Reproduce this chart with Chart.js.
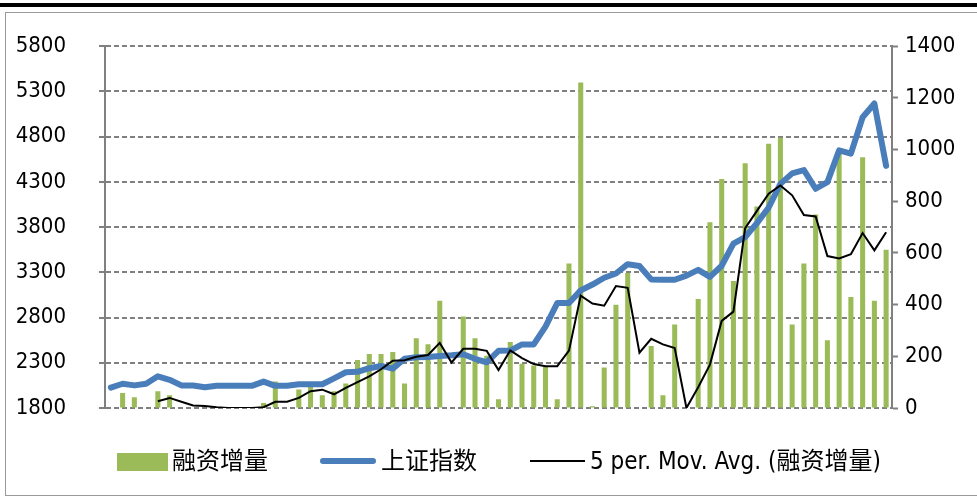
<!DOCTYPE html>
<html>
<head>
<meta charset="utf-8">
<script src="https://cdn.jsdelivr.net/npm/chart.js@4/dist/chart.umd.min.js"></script>
<style>
  html, body { margin: 0; padding: 0; background: #fff; }
  #wrap { position: relative; width: 977px; height: 501px; overflow: hidden; }
  #topbar { position: absolute; left: 0; top: 3px; width: 977px; height: 4px; background: #000; }
  #frame { position: absolute; left: 5px; top: 12px; width: 990px; height: 484px; border: 1px solid #9a9a9a; box-sizing: border-box; }
  canvas { position: absolute; left: 0; top: 0; }
  .lg { position: absolute; font-family: "Liberation Sans Narrow", "DejaVu Sans Condensed", "Noto Sans CJK SC", sans-serif; font-size: 24px; color: #000; line-height: 1; white-space: nowrap; }
  .sw { position: absolute; }
</style>
</head>
<body>
<div id="wrap">
  <div id="topbar"></div>
  <div id="frame"></div>
  <canvas id="c" width="977" height="501"></canvas>
  <div class="sw" style="left:117px; top:453px; width:51px; height:18px; background:#9BBB59;"></div>
  <div class="lg" style="left:172px; top:449px;">融资增量</div>
  <div class="sw" style="left:320px; top:458px; width:56px; height:6px; background:#4A7EBB; border-radius:3px;"></div>
  <div class="lg" style="left:381px; top:449px;">上证指数</div>
  <div class="sw" style="left:530px; top:460px; width:55px; height:2px; background:#000;"></div>
  <div class="lg" style="left:590px; top:449px;">5 per. Mov. Avg. (融资增量)</div>
</div>
<script>
// Categories (periods, unlabeled in the original)
const categories = [
  "1","2","3","4","5","6","7","8","9","10",
  "11","12","13","14","15","16","17","18","19","20",
  "21","22","23","24","25","26","27","28","29","30",
  "31","32","33","34","35","36","37","38","39","40",
  "41","42","43","44","45","46","47","48","49","50",
  "51","52","53","54","55","56","57","58","59","60",
  "61","62","63","64","65","66","67"
];

// 融资增量 (right axis)
const financingIncrease = [
  -16, 58, 42, -19, 65, 49, -17, -28, -29, -10,
  -5, -5, -3, 19, 103, -5, 72, 81, 49, 65,
  95, 186, 209, 209, 217, 95, 270, 247, 415, -147,
  354, 270, 202, 34, 255, 171, 164, 160, 34, 559,
  1260, 7, 157, 400, 522, -16, 240, 49, 323, -609,
  422, 719, 886, 491, 947, 780, 1023, 1046, 323, 559,
  749, 262, 985, 430, 970, 415, 612
];

// 上证指数 (left axis)
const shanghaiIndex = [
  2025, 2068, 2050, 2068, 2151, 2112, 2050, 2048, 2030, 2047,
  2047, 2047, 2045, 2092, 2045, 2045, 2062, 2062, 2062, 2127,
  2195, 2200, 2240, 2265, 2235, 2344, 2360, 2365, 2376, 2382,
  2395, 2344, 2305, 2432, 2435, 2503, 2503, 2700, 2960, 2960,
  3100, 3165, 3240, 3287, 3390, 3370, 3222, 3218, 3218, 3264,
  3327, 3250, 3373, 3617, 3690, 3844, 4017, 4278, 4394, 4430,
  4224, 4297, 4648, 4612, 5014, 5166, 4477
];

// 5 per. Mov. Avg. (融资增量) (right axis)
const movingAvg5 = [
  null, null, null, null, 26, 39, 24, 10, 8, 3,
  0, 0, 0, 3, 24, 24, 39, 65, 71, 53,
  78, 100, 122, 150, 183, 185, 198, 205, 252, 176,
  229, 229, 221, 147, 223, 193, 170, 162, 162, 222,
  435, 404, 396, 472, 465, 214, 268, 246, 232, 0,
  80, 168, 337, 373, 696, 763, 829, 861, 823, 747,
  741, 588, 579, 595, 677, 610, 680
];

// Axis tick values
const leftTicks = [1800, 2300, 2800, 3300, 3800, 4300, 4800, 5300, 5800];
const rightTicks = [0, 200, 400, 600, 800, 1000, 1200, 1400];

const tickFont = { family: '"Liberation Sans Narrow", "DejaVu Sans Condensed", sans-serif', size: 22 };
const gray = '#808080';

new Chart(document.getElementById('c'), {
  type: 'bar',
  data: {
    labels: categories,
    datasets: [
      {
        type: 'line',
        label: '5 per. Mov. Avg. (融资增量)',
        data: movingAvg5,
        yAxisID: 'yR',
        borderColor: '#000000',
        backgroundColor: '#000000',
        borderWidth: 2,
        pointRadius: 0,
        tension: 0,
        order: 0
      },
      {
        type: 'line',
        label: '上证指数',
        data: shanghaiIndex,
        yAxisID: 'yL',
        borderColor: '#4A7EBB',
        backgroundColor: '#4A7EBB',
        borderWidth: 6,
        borderJoinStyle: 'round',
        borderCapStyle: 'round',
        pointRadius: 0,
        tension: 0,
        order: 1
      },
      {
        type: 'bar',
        label: '融资增量',
        data: financingIncrease,
        yAxisID: 'yR',
        backgroundColor: '#9BBB59',
        borderWidth: 0,
        barPercentage: 0.43,
        categoryPercentage: 1.0,
        clip: 0,
        order: 2
      }
    ]
  },
  options: {
    responsive: false,
    animation: false,
    events: [],
    layout: { padding: { top: 40, bottom: 93, left: 0, right: 0 } },
    plugins: { legend: { display: false }, tooltip: { enabled: false } },
    scales: {
      x: {
        type: 'category',
        offset: true,
        display: false,
        grid: { display: false }
      },
      yL: {
        position: 'left',
        min: leftTicks[0],
        max: leftTicks[leftTicks.length - 1],
        afterBuildTicks: (s) => { s.ticks = leftTicks.map(v => ({ value: v })); },
        afterFit: (s) => { s.width = 105; },
        ticks: { font: tickFont, color: '#000', padding: 33, callback: (v) => String(v) },
        grid: { color: gray, lineWidth: 2, tickLength: 6, tickColor: gray, tickWidth: 2, tickBorderDash: [] },
        border: { display: true, color: gray, width: 2, dash: [5, 3] }
      },
      yR: {
        position: 'right',
        min: rightTicks[0],
        max: rightTicks[rightTicks.length - 1],
        afterBuildTicks: (s) => { s.ticks = rightTicks.map(v => ({ value: v })); },
        afterFit: (s) => { s.width = 85; },
        ticks: { font: tickFont, color: '#000', padding: 7, callback: (v) => String(v) },
        grid: { drawOnChartArea: false, tickLength: 6, tickColor: gray, tickWidth: 2 },
        border: { display: true, color: gray, width: 2 }
      }
    }
  }
});
</script>
</body>
</html>
